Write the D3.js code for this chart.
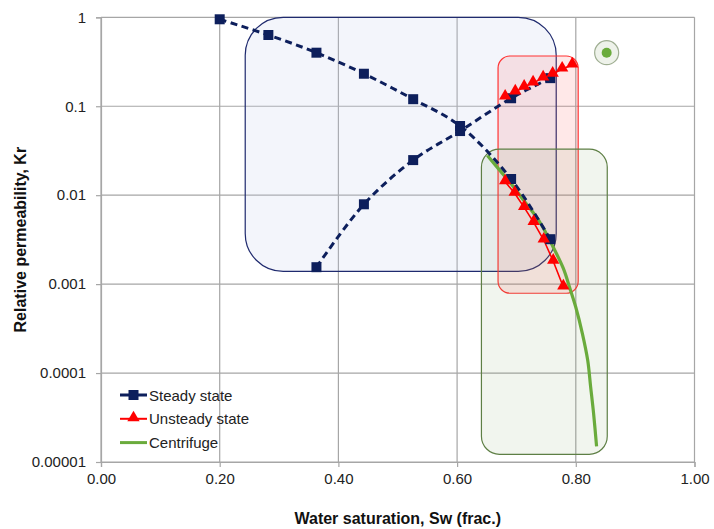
<!DOCTYPE html>
<html><head><meta charset="utf-8">
<script src="https://cdn.jsdelivr.net/npm/d3@7/dist/d3.min.js"></script>
<style>body{margin:0;background:#fff}svg{display:block}text{font-family:"Liberation Sans",Arial,sans-serif}</style>
</head><body><svg id="c" width="714" height="529"></svg>
<script>
// ---- data ----
const xTicks = [0, 0.2, 0.4, 0.6, 0.8, 1.0];
const yTicks = [1, 0.1, 0.01, 0.001, 0.0001, 0.00001];
const yTickLabels = ["1", "0.1", "0.01", "0.001", "0.0001", "0.00001"];
const seriesNames = ["Steady state", "Unsteady state", "Centrifuge"];

// Steady state (two branches)
const steadyOilSw = [0.20, 0.282, 0.363, 0.443, 0.526, 0.605, 0.691, 0.757];
const steadyOilKr = [0.95, 0.632, 0.40, 0.232, 0.12, 0.06, 0.0152, 0.0032];
const steadyWatSw = [0.363, 0.443, 0.526, 0.605, 0.691, 0.757];
const steadyWatKr = [0.00155, 0.0079, 0.0248, 0.0526, 0.123, 0.207];

// Unsteady state (two branches)
const unsteadyUpSw = [0.681, 0.698, 0.713, 0.728, 0.745, 0.761, 0.777, 0.794];
const unsteadyUpKr = [0.127, 0.145, 0.164, 0.183, 0.208, 0.230, 0.262, 0.291];
const unsteadyDnSw = [0.681, 0.697, 0.713, 0.729, 0.746, 0.762, 0.779];
const unsteadyDnKr = [0.01415, 0.0105, 0.0073, 0.00494, 0.00313, 0.00181, 0.00093];

// Centrifuge
const centSw = [0.651, 0.672, 0.690, 0.712, 0.740, 0.762, 0.779, 0.790, 0.800, 0.811, 0.820, 0.825, 0.830, 0.835];
const centKr = [0.028, 0.019, 0.0137, 0.0088, 0.0049, 0.0026, 0.0015, 0.0009, 0.00055, 0.00028, 0.00014, 0.00007, 0.000035, 0.000015];

// Centrifuge endpoint marker
const endPointSw = [0.852];
const endPointKr = [0.40];

// Highlight boxes [sw0, sw1, krTop, krBottom]
const boxSteady = [0.243, 0.767, 1.0, 0.00139];
const boxUnsteady = [0.669, 0.804, 0.367, 0.00079];
const boxCentrifuge = [0.641, 0.853, 0.033, 0.0000122];

// ---- chart ----
const W = 714, H = 529;
const m = {l: 101, t: 17.3, r: 714 - 694.5, b: 529 - 462};
const iw = W - m.l - m.r, ih = H - m.t - m.b;
const navy = "#0d1f5c", red = "#ff0000", green = "#6aab3c", grid = "#a6a6a6";

const svg = d3.select("#c");
const g = svg.append("g").attr("transform", `translate(${m.l},${m.t})`);
const x = d3.scaleLinear().domain([0, 1]).range([0, iw]);
const y = d3.scaleLog().domain([0.00001, 1]).range([ih, 0]);

// gridlines
g.append("g").selectAll("line").data(xTicks).join("line")
  .attr("x1", d => x(d)).attr("x2", d => x(d)).attr("y1", 0).attr("y2", ih)
  .attr("stroke", grid).attr("stroke-width", 1.2);
g.append("g").selectAll("line").data(yTicks).join("line")
  .attr("x1", 0).attr("x2", iw).attr("y1", d => y(d)).attr("y2", d => y(d))
  .attr("stroke", grid).attr("stroke-width", 1.2);

// axes
const xAxis = d3.axisBottom(x).tickValues(xTicks).tickFormat(d3.format(".2f")).tickSize(5).tickPadding(6);
const yAxis = d3.axisLeft(y).tickValues(yTicks).tickFormat((d, i) => yTickLabels[i]).tickSize(5).tickPadding(10);
const gx = g.append("g").attr("transform", `translate(0,${ih})`).call(xAxis);
const gy = g.append("g").call(yAxis);
[gx, gy].forEach(a => {
  a.select(".domain").attr("stroke", grid).attr("stroke-width", 1.2);
  a.selectAll(".tick line").attr("stroke", grid).attr("stroke-width", 1.2);
  a.selectAll(".tick text").attr("fill", "#222").style("font-size", "15px");
});

// highlight boxes
function box(b, fill, stroke, r) {
  g.append("rect")
    .attr("x", x(b[0])).attr("y", y(b[2]))
    .attr("width", x(b[1]) - x(b[0])).attr("height", y(b[3]) - y(b[2]))
    .attr("rx", r).attr("ry", r)
    .attr("fill", fill).attr("stroke", stroke).attr("stroke-width", 1.2);
}
box(boxSteady, "rgba(195,205,235,0.2)", "#1f2a6e", 38);
box(boxUnsteady, "rgba(255,80,80,0.13)", "#ff3333", 12);
box(boxCentrifuge, "rgba(120,160,90,0.1)", "#5e7f45", 18);

// endpoint marker
g.selectAll(".ep").data(endPointSw.map((s, i) => [s, endPointKr[i]])).join("g").each(function(d) {
  const s = d3.select(this);
  s.append("circle").attr("cx", x(d[0])).attr("cy", y(d[1])).attr("r", 12)
    .attr("fill", "#eef2ea").attr("stroke", "#9fae92").attr("stroke-width", 1.2);
  s.append("circle").attr("cx", x(d[0])).attr("cy", y(d[1])).attr("r", 5).attr("fill", green);
});

const zip = (a, b) => a.map((v, i) => [v, b[i]]);

// centrifuge
g.append("path").datum(zip(centSw, centKr))
  .attr("d", d3.line().x(d => x(d[0])).y(d => y(d[1])).curve(d3.curveCatmullRom.alpha(0.5)))
  .attr("fill", "none").attr("stroke", green).attr("stroke-width", 3.2);

// steady state
const steadyOil = zip(steadyOilSw, steadyOilKr), steadyWat = zip(steadyWatSw, steadyWatKr);
[steadyOil, steadyWat].forEach(ds => {
  g.append("path").datum(ds).attr("d", d3.line().x(d => x(d[0])).y(d => y(d[1])).curve(d3.curveCatmullRom.alpha(0.5)))
    .attr("fill", "none").attr("stroke", navy).attr("stroke-width", 3).attr("stroke-dasharray", "7,4.5");
});

// unsteady state
const unUp = zip(unsteadyUpSw, unsteadyUpKr), unDn = zip(unsteadyDnSw, unsteadyDnKr);
[unUp, unDn].forEach(ds => {
  g.append("path").datum(ds).attr("d", d3.line().x(d => x(d[0])).y(d => y(d[1])))
    .attr("fill", "none").attr("stroke", red).attr("stroke-width", 1.6);
});

// markers
const sq = d3.symbol().type(d3.symbolSquare).size(100);
const tri = d3.symbol().type(d3.symbolTriangle).size(66);
[steadyOil, steadyWat].forEach(ds => {
  g.append("g").selectAll("path").data(ds).join("path").attr("d", sq)
    .attr("transform", d => `translate(${x(d[0])},${y(d[1])})`).attr("fill", navy);
});
[unUp, unDn].forEach(ds => {
  g.append("g").selectAll("path").data(ds).join("path").attr("d", tri)
    .attr("transform", d => `translate(${x(d[0])},${y(d[1]) - 1})`).attr("fill", red);
});

// legend
const lg = svg.append("g").attr("transform", "translate(120,395)");
const rowH = 23.8;
seriesNames.forEach((name, i) => {
  const r = lg.append("g").attr("transform", `translate(0,${i * rowH})`);
  if (i === 0) {
    r.append("line").attr("x1", 0).attr("x2", 27).attr("y1", 0).attr("y2", 0)
      .attr("stroke", navy).attr("stroke-width", 3).attr("stroke-dasharray", "10,3,20,3,3,3");
    r.append("path").attr("d", sq).attr("transform", "translate(13.5,0)").attr("fill", navy);
  } else if (i === 1) {
    r.append("line").attr("x1", 0).attr("x2", 27).attr("y1", 0).attr("y2", 0)
      .attr("stroke", red).attr("stroke-width", 2);
    r.append("path").attr("d", tri).attr("transform", "translate(13.5,-1)").attr("fill", red);
  } else {
    r.append("line").attr("x1", 0).attr("x2", 27).attr("y1", 0).attr("y2", 0)
      .attr("stroke", green).attr("stroke-width", 3);
  }
  r.append("text").attr("x", 29).attr("y", 5.5).text(name)
    .style("font-size", "15px").attr("fill", "#222");
});

// axis titles
svg.append("text").attr("x", m.l + iw / 2).attr("y", 524).attr("text-anchor", "middle")
  .style("font-size", "16px").style("font-weight", "bold").attr("fill", "#111")
  .text("Water saturation, Sw (frac.)");
svg.append("text").attr("transform", `translate(26,${m.t + ih / 2}) rotate(-90)`)
  .attr("text-anchor", "middle").style("font-size", "16px").style("font-weight", "bold").attr("fill", "#111")
  .text("Relative permeability, Kr");
</script></body></html>
